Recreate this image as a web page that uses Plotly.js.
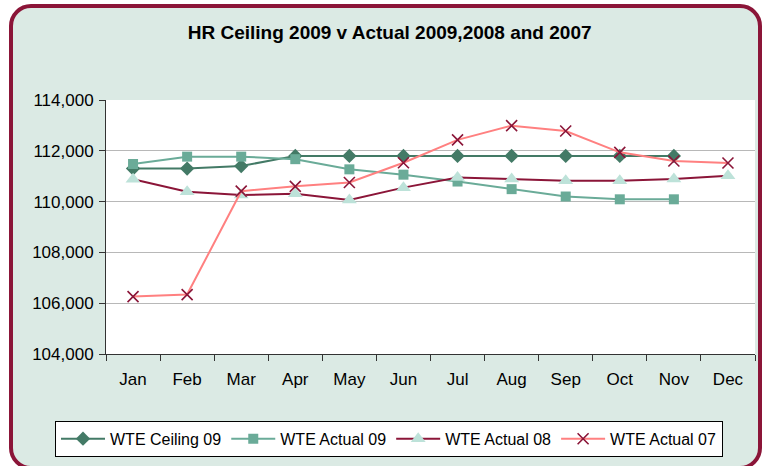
<!DOCTYPE html>
<html><head><meta charset="utf-8">
<script src="https://cdn.plot.ly/plotly-3.0.1.min.js"></script>
<style>
html,body{margin:0;padding:0;background:#fff;width:764px;height:466px;overflow:hidden;}
#frame{position:absolute;left:9px;top:4px;width:745px;height:458px;border:4px solid #8b1538;border-radius:22px;background:#dbeae4;}
#chart{position:absolute;left:0;top:0;width:764px;height:466px;}
</style></head>
<body>
<div id="frame"></div>
<div id="chart"></div>
<script>
const months = ["Jan","Feb","Mar","Apr","May","Jun","Jul","Aug","Sep","Oct","Nov","Dec"];
const ceiling09 = [111300,111300,111400,111800,111800,111800,111800,111800,111800,111800,111800,null];
const actual09 = [111480,111770,111770,111670,111270,111060,110790,110490,110200,110090,110090,null];
const actual08 = [110880,110390,110260,110310,110060,110550,110950,110890,110820,110820,110890,111020];
const actual07 = [106260,106340,110410,110600,110750,111530,112430,112990,112780,111940,111600,111520];
const seriesNames = ["WTE Ceiling 09","WTE Actual 09","WTE Actual 08","WTE Actual 07"];

const traces = [
  {x:months,y:ceiling09,name:seriesNames[0],mode:"lines+markers",
   line:{color:"#437a66",width:2},marker:{symbol:"diamond",size:11,color:"#437a66"}},
  {x:months,y:actual09,name:seriesNames[1],mode:"lines+markers",
   line:{color:"#6aab98",width:2},marker:{symbol:"square",size:10,color:"#6aab98"}},
  {x:months,y:actual08,name:seriesNames[2],mode:"lines+markers",
   line:{color:"#8b1538",width:2},marker:{symbol:"triangle-up",size:13,color:"#bde2d9"}},
  {x:months,y:actual07,name:seriesNames[3],mode:"lines+markers",
   line:{color:"#ff8080",width:2},marker:{symbol:"x-thin",size:11,line:{color:"#8b1538",width:1.6},color:"#8b1538"}}
];

const layout = {
  width:764,height:466,
  paper_bgcolor:"rgba(0,0,0,0)",plot_bgcolor:"rgba(0,0,0,0)",
  font:{family:"Liberation Sans, Arial, sans-serif",size:17,color:"#000"},
  margin:{l:0,r:0,t:100,b:112,autoexpand:false},
  shapes:[{type:"rect",xref:"x domain",yref:"y domain",x0:0,x1:1,y0:0,y1:1,
           fillcolor:"#ffffff",line:{width:0},layer:"below"}],
  title:{text:"<b>HR Ceiling 2009 v Actual 2009,2008 and 2007</b>",x:0.51,xref:"container",xanchor:"center",
         y:0.93,yref:"container",yanchor:"middle",
         font:{size:19,color:"#000",family:"Liberation Sans, Arial, sans-serif"}},
  xaxis:{type:"category",domain:[106/764,755/764],automargin:false,showgrid:false,showline:true,linecolor:"#333",linewidth:1,
         ticks:"outside",ticklen:6,tickcolor:"#333",tickson:"boundaries",ticklabelstandoff:10,
         tickfont:{size:17},range:[-0.5,11.5]},
  yaxis:{range:[104000,114000],dtick:2000,tickformat:",d",automargin:false,showgrid:true,gridcolor:"#b8b8b8",gridwidth:1,
         showline:true,linecolor:"#333",linewidth:1,ticks:"outside",ticklen:6,tickcolor:"#333",
         ticklabelstandoff:2,tickfont:{size:17},zeroline:false},
  showlegend:true,
  legend:{orientation:"h",x:389/764,xanchor:"center",y:-0.263,yanchor:"top",
          bgcolor:"#ffffff",bordercolor:"#000",borderwidth:1,font:{size:16},
          itemwidth:44,traceorder:"normal"}
};

Plotly.newPlot("chart",traces,layout,{displayModeBar:false,staticPlot:true});
</script>
</body></html>
